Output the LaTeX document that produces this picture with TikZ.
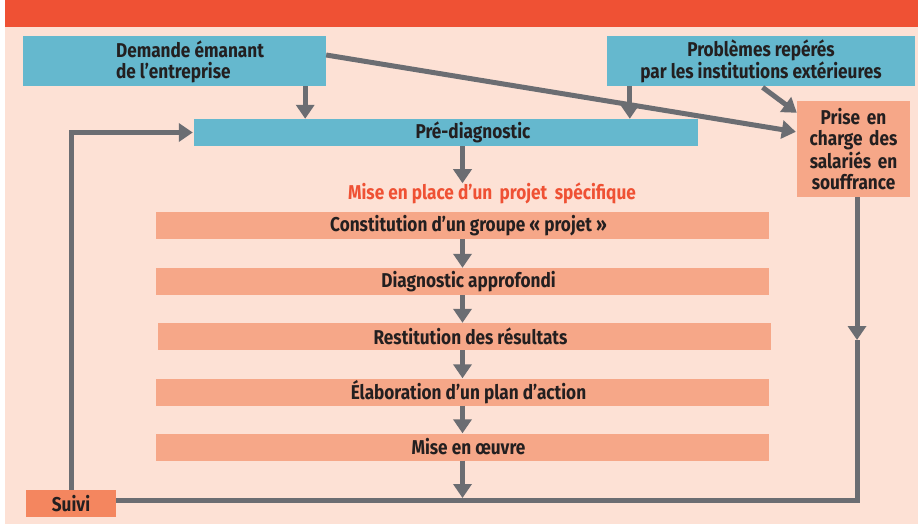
\documentclass[tikz,border=0pt]{standalone}
\usepackage{fontspec}
\setmainfont{Fira Sans}[FakeStretch=0.86]
\usetikzlibrary{arrows.meta,calc,positioning}
\definecolor{boxblue}{HTML}{65B8CE}
\definecolor{boxorange}{HTML}{F6A788}
\definecolor{suiviorange}{HTML}{F4865F}
\definecolor{bgpeach}{HTML}{FDE1D5}
\definecolor{bannerred}{HTML}{EF5134}
\definecolor{arrowgray}{HTML}{6B6D72}
\definecolor{textdark}{HTML}{231F20}

\tikzset{
  boxtext/.style={inner sep=0pt,align=center,text=textdark,
                  font=\bfseries\fontsize{20}{21}\selectfont},
  bluebox/.style={boxtext,fill=boxblue},
  textshift/.style={execute at begin node={\hspace*{#1}}},
  stagebox/.style={boxtext,fill=boxorange,minimum width=613pt,minimum height=27pt,textshift=12pt},
  flow/.style={draw=arrowgray,line width=5pt,-{Triangle[length=14pt,width=18pt]}},
  flowline/.style={draw=arrowgray,line width=5pt}
}

\begin{document}
\begin{tikzpicture}[x=1pt,y=-1pt]
  \useasboundingbox (0,0) rectangle (918,524);
  \fill[bgpeach] (5,27) rectangle (918,524);
  \fill[bannerred] (5,0) rectangle (918,27);
  \node[bluebox,minimum width=303pt,minimum height=50pt] (demande) at (174.5,61) {};
  \node[boxtext,align=left] (demandetext) at (190,61.5) {Demande émanant\\de l’entreprise};
  \node[bluebox,minimum width=308pt,minimum height=50pt] (problemes) at (761,61) 
    {Problèmes repérés\\par les institutions extérieures};
  \node[bluebox,minimum width=504pt,minimum height=27pt,textshift=54pt] (prediag) at (446,132.5) {Pré-diagnostic};
  \node[boxtext,fill=boxorange,minimum width=113pt,minimum height=96pt,text width=113pt]
    (prise) at (853.5,149) {Prise en\\charge des\\salariés en\\souffrance};
  \node[boxtext,text=bannerred] (miseplace) at (492,193) {Mise en place d’un\, projet\, spécifique};
  \node[stagebox] (constitution) at (462.5,225.5) {Constitution d’un groupe « projet »};
  \node[stagebox] (approfondi) at (462.5,281.5) {Diagnostic approfondi};
  \node[stagebox] (restitution) at (464.5,336.5) {Restitution des résultats};
  \node[stagebox] (elaboration) at (462.5,392) {Élaboration d’un plan d’action};
  \node[stagebox] (oeuvre) at (462.5,447) {Mise en œuvre};
  \node[boxtext,fill=suiviorange,minimum width=90pt,minimum height=27pt] (suivi) at (71,503.5) {Suivi};
  \coordinate (midright) at (857,340); % arrow tip on the return line
  \coordinate (cornerright) at (857,500);
  % entries into the pre-diagnostic
  \draw[flow] ([xshift=-21pt]demande.south east) -- ([xshift=-21pt]demande.south east |- prediag.north);
  \draw[flow] ([xshift=23pt]problemes.south west) -- ([xshift=23pt]problemes.south west |- prediag.north);
  \draw[flow,shorten >=1pt] ([yshift=6pt]demande.east) -- ([yshift=17pt]prise.west);
  \draw[flow,shorten <=2pt] (problemes.south) -- ([yshift=-12pt]prise.north west);
  % project chain
  \draw[flow] (constitution.north |- prediag.south) -- ([yshift=-1pt]constitution.north |- miseplace.north);
  \draw[flow] (constitution) -- (approfondi);
  \draw[flow] (approfondi) -- (restitution.north -| approfondi);
  \draw[flow] (restitution.south -| elaboration) -- (elaboration);
  \draw[flow] (elaboration) -- (oeuvre);
  \draw[flow,shorten >=2pt] (oeuvre) -- (oeuvre.south |- cornerright);
  % return loop
  \draw[flow] (prise.south -| midright) -- (midright);
  \draw[flowline] (midright) -- (cornerright) -- (cornerright -| suivi.east);
  \draw[flow,shorten >=1pt] (suivi.north) |- (prediag.west);
\end{tikzpicture}
\end{document}
